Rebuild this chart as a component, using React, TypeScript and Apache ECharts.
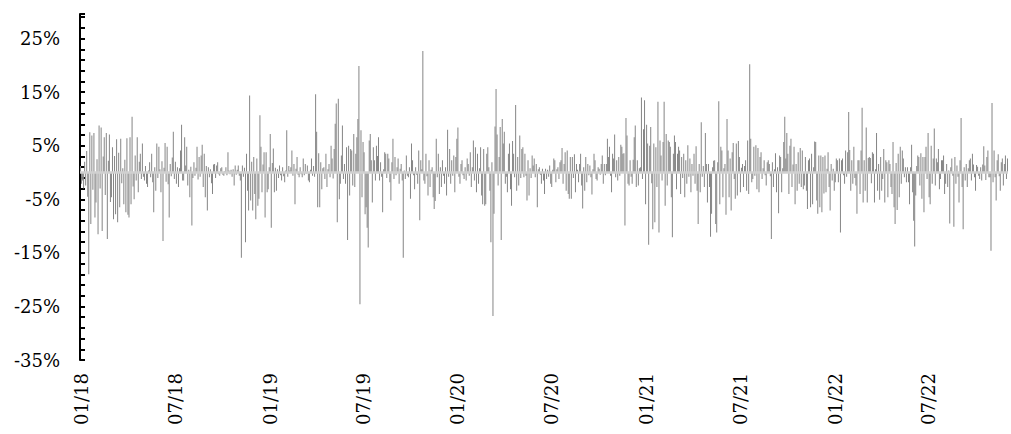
import React, { useEffect, useRef } from "react";
import * as echarts from "echarts";

// Daily returns (%), one bar every two days.
const retDec17toMar19: number[] = [
  1.2, -2.1, -1.5, -3.0, 2.0, -2.4, 4.0, -4.5, -19.0, 7.5,
  -9.6, 6.9, -3.2, 7.4, -8.4, -5.6, 2.5, -11.5, 8.8, -3.0,
  8.4, -10.9, 3.0, 6.6, -4.2, 7.4, -12.4, 2.2, 7.1, -5.5,
  -4.6, 4.7, -8.7, 3.1, -7.8, 6.2, -9.3, 3.7, -6.5, 6.3,
  -2.0, 0.8, -5.9, 2.4, -7.4, 6.4, -7.9, -8.4, 6.6, -5.9,
  10.4, -2.6, -5.0, 3.2, -1.5, 6.6, -3.7, 2.0, 3.5, -1.2,
  5.4, -0.8, -1.5, 1.2, -2.1, -2.7, 0.4, 1.9, -0.9, 3.5,
  -1.8, -7.4, 1.0, -3.4, 5.4, -1.0, 4.8, 0.6, -3.7, 2.1,
  -12.8, 0.9, 5.5, -1.7, 4.8, -2.2, -8.4, 1.6, -0.7, 2.8,
  7.6, -1.2, 2.0, -2.1, 1.0, -2.7, 0.8, 4.1, 8.9, -1.5,
  -1.5, 6.6, 1.3, 4.8, -2.4, 0.5, -4.6, 1.1, -9.9, -1.0,
  1.9, -0.6, 0.9, 4.8, -1.3, 2.9, -0.8, 3.2, 5.2, -2.7,
  3.5, -4.6, 1.2, -7.1, 1.0, -0.9, 0.6, -2.0, -4.0, 1.5,
  1.6, -1.0, 1.3, 1.9, -0.3, -0.6, 0.8, 1.0, -0.4, -0.6,
  0.3, 1.0, -0.5, 3.8, 0.4, -0.3, 0.5, -0.8, 0.6, -2.4,
  1.3, -0.4, 0.5, 1.3, -0.6, -1.5, -15.9, 1.3, -0.8, 0.9,
  -13.0, 3.5, -3.4, -7.1, 14.4, -5.2, 2.0, -7.1, 2.9, -4.0,
  -8.7, 2.6, -6.2, -4.9, 10.7, 4.8, -3.7, 1.5, 3.8, -8.4,
  3.8, -3.7, -3.1, 1.0, 7.2, -10.3, 1.8, 4.5, -3.7, 0.9,
  -3.4, 0.6, -1.0, 1.3, -0.5, -1.5, 1.0, -0.7, -1.8, 0.4,
  7.9, -0.8, 1.2, 0.4, 1.0, 4.1, -0.6, 1.6, -5.9, 0.7,
  2.9, -0.4, -0.9, 1.0, -0.3, -0.9, 2.6, -0.5, 1.6, -0.2,
  1.3, -1.5, -1.8, 0.5, 2.6, -0.6, 1.2, -0.8,
];

const retMar19toJun20: number[] = [
  14.6, 7.6, -6.5, 3.6, -6.5, 1.9, -3.1, 0.8, 1.0, -1.2,
  3.5, -2.7, 0.6, 1.6, -0.9, 5.0, 2.6, -1.1, 4.4, 9.1,
  12.9, -9.3, 13.8, -5.0, -2.1, 3.2, 8.8, -1.2, 1.6, -2.1,
  4.7, -12.6, 5.0, -4.3, 4.4, 4.1, -2.4, 7.2, -2.7, 3.5,
  6.6, 10.0, 19.9, -24.6, 7.9, -4.6, 5.7, 3.8, -7.8, -6.5,
  -10.3, -14.0, 6.0, 7.2, 2.3, -5.6, 4.7, 2.3, -1.5, 5.0,
  3.1, 6.6, -1.5, 1.9, -0.8, -7.4, 0.6, 3.8, 3.5, -1.0,
  3.5, 2.6, -1.8, -5.2, 1.9, 6.3, -1.2, 2.9, -0.5, 1.0,
  2.6, -2.1, 0.7, 1.6, -1.5, -15.9, 0.4, -1.2, 3.2, -0.6,
  -0.9, 1.0, -4.9, 5.4, 2.3, -0.5, -3.1, 1.0, -0.4, -2.1,
  4.1, -8.9, 2.3, 0.6, 22.7, -1.5, -2.1, 3.5, -0.7, -4.3,
  2.3, -2.7, 0.5, 1.0, -4.6, -6.8, -5.3, 6.3, -0.9, 3.5,
  -4.0, 1.0, -2.7, 2.3, -0.6, -2.1, 1.0, -4.3, 8.0, -0.8,
  4.4, -2.1, 2.3, -0.6, 3.2, -3.7, 2.9, 6.3, 8.4, -0.8,
  -2.1, 1.6, 2.3, -0.5, -1.2, 1.0, -1.5, 2.6, 1.6, -0.6,
  3.8, -2.7, 1.0, 6.0, -1.5, 4.7, -3.7, 3.5, -2.1, 0.8,
  4.7, -4.3, -5.9, 4.4, -6.2, -5.9, 3.5, 4.7, 1.0, -3.4,
  -13.0, 1.9, -26.8, -7.7, 8.6, 15.6, 7.1, -2.4, 2.9, 8.5,
  -12.6, 10.0, 5.4, 7.6, -2.1, -0.8, -3.7, 3.5, 5.4, -3.1,
  -6.2, 5.9, 3.5, -0.9, 12.6, -3.4, 2.9, -2.4, 6.9, -1.0,
  4.4, 4.7, -0.9, 3.5, -0.6, -5.2, 2.3, -4.3, 0.8, -1.0,
  3.2, 1.3, 2.6, -0.9, 1.6, -6.5, 0.6, 1.0, -0.4, -2.1,
  0.7, -1.5, -4.0, 0.7, -1.2, 0.5, -0.8,
];

const retJun20toSep21: number[] = [
  1.3, -2.1, -2.7, 0.5, 2.6, 2.3, -1.8, 0.6, 1.0, -1.2,
  1.9, 2.3, 4.6, -2.1, 1.6, 3.8, -3.4, 4.1, -4.0, -4.9,
  2.9, -4.9, 2.9, -1.0, 3.4, -3.7, 1.6, 0.5, -1.8, 1.6,
  3.5, -2.4, -6.7, 1.0, -3.4, 2.9, -1.8, 1.6, -0.5, 1.3,
  -0.9, -4.1, 0.6, 3.5, 2.3, -1.2, -1.5, 1.0, 0.7, -0.4,
  1.6, 3.2, -2.1, 1.6, -0.5, 1.6, 6.3, 2.9, 4.8, -0.6,
  -3.7, 3.5, 2.6, 7.1, -0.9, 2.3, -1.5, 2.9, -0.6, 5.2,
  4.8, 3.5, 3.6, -9.9, 10.2, 6.9, -2.1, -2.4, 2.3, -0.8,
  -2.1, 2.4, 6.6, 8.8, -2.7, 2.3, -2.4, 0.8, 1.0, 14.0,
  -1.2, 8.1, 13.5, -5.9, 8.9, 5.4, -13.5, 5.0, 8.5, -2.0,
  -10.6, 5.4, -9.3, 4.7, -2.7, 13.2, -11.2, 6.0, 3.2, -1.5,
  5.7, 13.2, -6.2, 7.2, -2.4, 6.0, 5.7, 4.8, -4.6, -12.1,
  3.5, 6.9, 5.7, -3.1, 3.5, 4.8, 4.1, -4.0, 2.9, -1.0,
  3.5, -4.6, 2.3, -2.1, 5.1, -0.8, 2.6, -3.7, 1.6, -0.6,
  3.5, -2.1, 4.9, -3.4, -9.6, 1.6, -3.7, 9.4, -0.8, 1.2,
  -2.7, 7.4, 1.6, -5.6, 1.6, -2.7, -12.0, -7.7, 1.0, 2.2,
  2.3, -9.6, -11.2, 1.9, 13.3, -5.9, 4.8, 4.1, -4.6, 0.8,
  1.6, -7.9, 10.0, 4.1, -4.6, 2.6, -7.1, 3.8, 5.5, -1.2,
  -4.9, 5.4, -4.3, 5.9, 2.9, -3.7, 0.9, 1.6, -2.7, 1.2,
  2.3, -3.4, 6.0, -4.0, 20.2, 6.3, -1.8, -1.2, 4.8, -0.6,
  5.1, -3.1, 4.6, -3.7, 2.9, 3.8, -1.2, 0.8, 2.3, -0.5,
  -2.4, 1.9, 2.3, 1.6, -0.7, -12.4, 1.9, -2.7, 0.6, 3.6,
  -3.7, 1.0, -7.6, 3.2, 2.9, -3.7, 0.8,
];

const retSep21toDec22: number[] = [
  5.7, 10.4, 2.6, 7.4, 3.5, -4.0, 5.0, 6.3, -2.7, 1.5,
  4.8, -5.9, 1.6, -3.4, 3.8, -2.1, 4.6, -2.7, 4.1, -3.1,
  -2.4, 2.9, -3.4, -6.8, 2.3, 2.6, -6.5, 3.5, -5.9, 1.0,
  5.8, 5.7, -5.2, -7.7, 3.2, -6.5, 3.2, -7.4, 2.9, -3.9,
  3.2, -3.7, 0.7, 3.8, -2.7, -7.1, 1.6, -1.5, 0.7, -3.4,
  -1.8, 2.6, 2.3, -1.8, 2.6, -11.2, 2.3, 2.6, -0.5, -2.1,
  4.1, -0.8, 3.8, 11.3, 4.2, -3.4, 2.3, -2.1, 4.8, -1.0,
  -2.4, -7.7, 2.3, 2.3, -4.0, 4.1, 12.1, -5.6, 2.3, -3.4,
  8.4, -5.6, 2.7, 2.9, 2.7, -2.0, 3.8, 3.5, -5.6, 0.6,
  7.4, -3.4, 1.6, -5.1, 2.9, -3.4, -1.2, 4.4, -5.6, 2.3,
  1.9, -4.6, 2.3, 1.6, -2.7, -4.0, 5.7, -6.5, -9.6, 1.8,
  -7.0, 3.5, -4.6, 4.8, -2.1, 4.1, 2.6, -0.9, 1.0, -1.8,
  1.0, -1.8, -5.9, 1.0, 5.2, -3.7, -9.0, -13.8, -4.3, 1.2,
  3.2, 2.9, -2.4, 3.6, -4.9, 2.9, -7.4, 2.9, 4.8, -1.2,
  7.4, -4.6, -5.9, 5.0, -2.1, 2.6, 8.2, -2.4, 2.6, 1.9,
  4.4, -3.1, -1.2, 2.3, 2.3, 3.2, -4.0, -2.1, 1.6, -2.7,
  0.4, -9.5, 1.0, 2.6, -0.6, -10.1, 2.9, -2.1, 1.3, -0.8,
  -5.6, 2.3, 10.2, -2.7, -10.6, 1.0, -1.5, 1.6, -2.7, 0.8,
  2.3, 2.6, -1.5, 3.5, 1.5, -0.9, -3.4, 1.4, 1.1, -0.6,
  -1.2, 1.0, -1.5, 1.5, 4.9, 1.3, -1.4, 2.9, 4.1, -0.9,
  -0.9, -14.6, 13.0, -1.8, 4.1, -0.9, -5.2, 2.3, 3.4, -0.7,
  -3.4, 1.9, 2.6, -2.4, 1.6, 3.2, -1.2, 2.6,
];

const returns: number[] = [
  ...retDec17toMar19,
  ...retMar19toJun20,
  ...retJun20toSep21,
  ...retSep21toDec22,
];

// Category dates: every second day from 30 Dec 2017.
const startDate = Date.UTC(2017, 11, 30);
const stepDays = 2;
const dates: string[] = returns.map((_, i) => {
  const d = new Date(startDate + i * stepDays * 86400000);
  return d.toISOString().slice(0, 10);
});

// Labelled months on the x axis (January and July).
const labelMonths = [1, 7];
const labelIdx = new Set<number>();
dates.forEach((d, i) => {
  const m = Number(d.slice(5, 7));
  const prevM = i > 0 ? Number(dates[i - 1].slice(5, 7)) : -1;
  if (labelMonths.includes(m) && m !== prevM) labelIdx.add(i);
});

// Y axis: ticks every 2% from -35%, labels every 10%.
const yMin = -35;
const yMax = 29.6;
const yTickStep = 2;
const yLabelStep = 10;

const FONT = "'DejaVu Serif', 'Liberation Serif', serif";

export default function App() {
  const ref = useRef<HTMLDivElement>(null);
  useEffect(() => {
    if (!ref.current) return;
    const chart = echarts.init(ref.current, undefined, { renderer: "svg" });
    chart.setOption({
      animation: false,
      grid: { left: 80, right: 3, top: 14, bottom: 74, containLabel: false },
      xAxis: {
        type: "category",
        data: dates,
        boundaryGap: true,
        axisLine: { show: false },
        axisTick: { show: false },
        splitLine: { show: false },
        axisLabel: {
          interval: (index: number) => labelIdx.has(index),
          rotate: 90,
          margin: 13,
          fontFamily: FONT,
          fontSize: 18,
          color: "#000",
          hideOverlap: false,
          formatter: (v: string) => v.slice(5, 7) + "/" + v.slice(2, 4),
        },
      },
      yAxis: [
        { type: "value", min: yMin, max: yMax, show: false },
        {
          type: "value",
          min: 0,
          max: yMax - yMin,
          interval: yTickStep,
          position: "left",
          axisLine: { show: true, lineStyle: { color: "#000", width: 2 } },
          axisTick: { show: true, inside: true, length: 5, lineStyle: { color: "#000", width: 2 } },
          splitLine: { show: false },
          axisLabel: {
            margin: 20,
            fontFamily: FONT,
            fontSize: 18,
            color: "#000",
            formatter: (v: number) =>
              Math.round(v) % yLabelStep === 0 ? `${Math.round(v) + yMin}%` : "",
          },
        },
      ],
      series: [
        {
          type: "bar",
          yAxisIndex: 0,
          data: returns,
          barWidth: 1,
          itemStyle: { color: "#858585" },
          markLine: {
            silent: true,
            symbol: ["none", "none"],
            label: { show: false },
            lineStyle: { color: "#d0d0d0", width: 2.5, type: "solid" },
            data: [{ yAxis: 0 }],
          },
        },
      ],
    });
    return () => chart.dispose();
  }, []);
  return (
    <div
      ref={ref}
      style={{ position: "fixed", left: 0, top: 0, width: 1011, height: 434, background: "#fff" }}
    />
  );
}
